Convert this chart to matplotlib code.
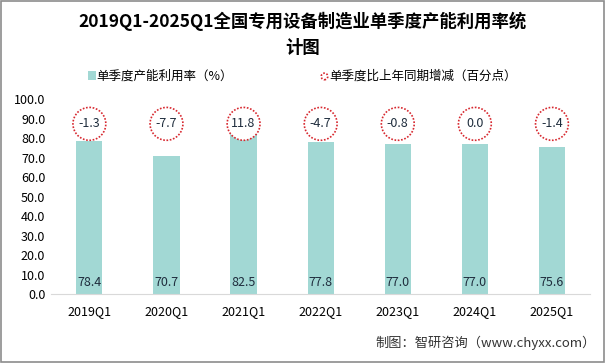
import matplotlib.pyplot as plt
import numpy as np

plt.rcParams['font.family'] = ['Noto Sans CJK SC', 'DejaVu Sans']

quarters = ['2019Q1', '2020Q1', '2021Q1', '2022Q1', '2023Q1', '2024Q1', '2025Q1']
rate = [78.4, 70.7, 82.5, 77.8, 77.0, 77.0, 75.6]
change = [-1.3, -7.7, 11.8, -4.7, -0.8, 0.0, -1.4]

fig = plt.figure(figsize=(6.05, 3.63), dpi=100)
ax = fig.add_axes([0.084, 0.19, 0.892, 0.537])

x = np.arange(len(quarters))
bars = ax.bar(x, rate, width=0.34, color='#a2d8d4', label='单季度产能利用率（%）', zorder=2)
for i, v in enumerate(rate):
    ax.text(i, 6, f'{v:.1f}', ha='center', va='center', fontsize=9, color='#1f2d3d', zorder=3)

pts = ax.scatter(x, [87.3] * len(x), s=560, facecolor='white', edgecolor='#d7282f',
                 linestyle=(0, (1, 1)), linewidth=1.2, zorder=3,
                 label='单季度比上年同期增减（百分点）')
for i, v in enumerate(change):
    ax.text(i, 87.3, f'{v:.1f}', ha='center', va='center', fontsize=9, color='#1f2d3d', zorder=4)

ax.set_xlim(-0.5, len(x) - 0.5)
ax.set_ylim(0, 100)
ax.set_yticks(np.arange(0, 101, 10))
ax.set_yticklabels([f'{t:.1f}' for t in np.arange(0, 101, 10)], fontsize=9)
ax.set_xticks(x)
ax.set_xticklabels(quarters, fontsize=9)
ax.tick_params(length=0, pad=8)
ax.tick_params(axis='y', pad=4)
for s in ['top', 'right', 'left']:
    ax.spines[s].set_visible(False)
ax.spines['bottom'].set_color('#d9d9d9')

fig.text(0.5, 0.905, '2019Q1-2025Q1全国专用设备制造业单季度产能利用率统\n计图', ha='center', va='center',
         fontsize=12.5, fontweight='bold', linespacing=1.55)

leg = fig.legend([bars, pts], ['单季度产能利用率（%）', '单季度比上年同期增减（百分点）'],
                 loc='center', bbox_to_anchor=(0.5, 0.79), ncol=2, frameon=False,
                 fontsize=9, handlelength=0.6, handletextpad=0.1, columnspacing=7,
                 markerscale=0.2)

fig.text(0.985, 0.055, '制图：智研咨询（www.chyxx.com）', ha='right', va='center', fontsize=9.5, color='#333333')

fig.patches.append(plt.Rectangle((0.002, 0.003), 0.996, 0.994, transform=fig.transFigure,
                                 fill=False, edgecolor='#8c8c8c', linewidth=1.2))

fig.savefig('out.png', dpi=100)
